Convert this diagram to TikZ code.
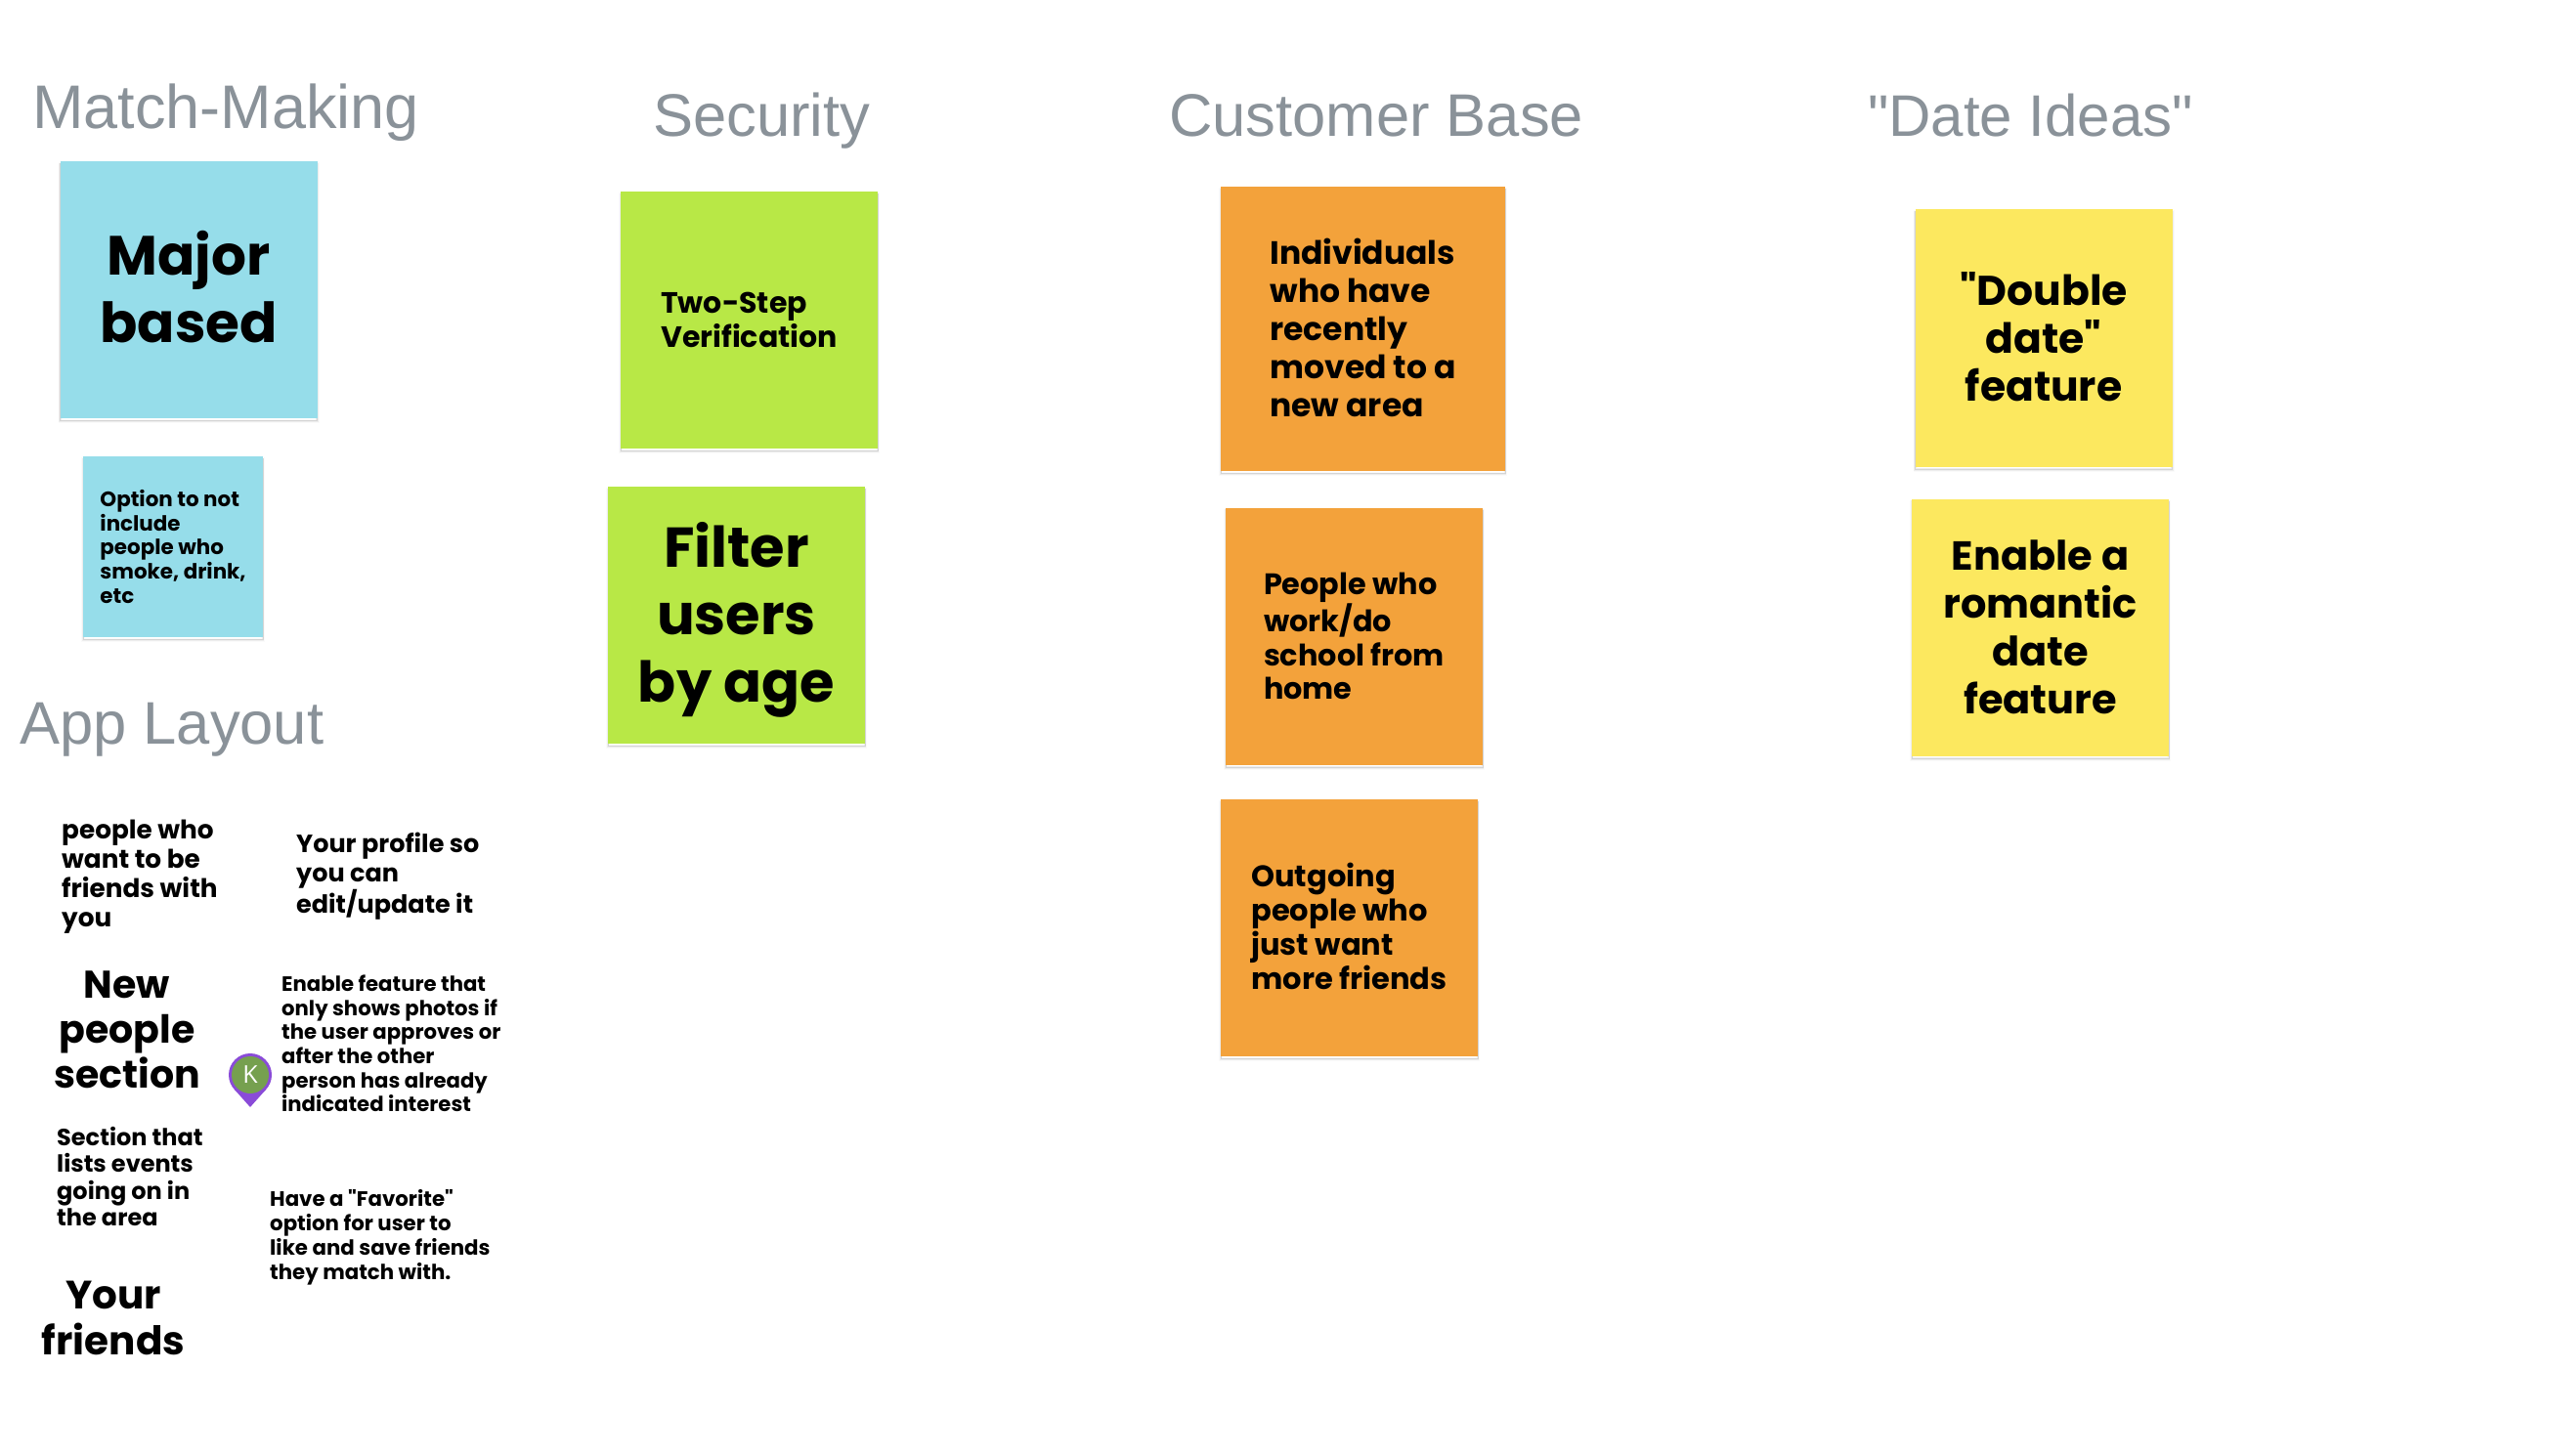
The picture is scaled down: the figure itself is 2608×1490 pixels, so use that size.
\documentclass[tikz,border=0pt]{standalone}
\usepackage{fontspec}
\setmainfont{Poppins}[Ligatures=TeXOff]
\newfontfamily\titlefont{Liberation Sans}
\newfontfamily\pinfont{Open Sans}
\newcommand\fz[2]{\fontsize{#1}{#2}\selectfont}
\definecolor{skyNote}{HTML}{96DDEA}
\definecolor{limeNote}{HTML}{B8E846}
\definecolor{orangeNote}{HTML}{F3A23B}
\definecolor{yellowNote}{HTML}{FCE85F}
\definecolor{headGray}{HTML}{8A9299}
\definecolor{pinPurple}{HTML}{8A4BD8}
\definecolor{pinGreen}{HTML}{76A04F}
\tikzset{
  note/.style={inner sep=0pt,align=#1,text=black},
  note/.default=left,
  fs/.style 2 args={font=\bfseries\fz{#1}{#2}},
  sticky/.style={fill=#1,inner sep=0pt,minimum width=263pt,minimum height=263pt,
    preaction={draw=black,line width=4pt,draw opacity=.02,transform canvas={yshift=-3pt}},
    preaction={draw=black,line width=2.5pt,draw opacity=.05,transform canvas={yshift=-3pt}},
    preaction={draw=black,line width=1pt,draw opacity=.1,transform canvas={yshift=-2.5pt}}},
  head/.style={inner sep=0pt,anchor=base west,text=headGray,font=\titlefont\fz{61.5}{70}},
}
\begin{document}
\begin{tikzpicture}[x=1pt,y=-1pt]
\useasboundingbox[fill=white] (0,0) rectangle (2608,1490);
% headings
\node[head,font=\titlefont\fz{63}{70}] (h1) at (33,131.5) {Match-Making};
\node[head] (h2) at (668,139.5) {Security};
\node[head] (h3) at (1196,140) {Customer Base};
\node[head,font=\titlefont\fz{60}{70}] (h4) at (1911,140) {"Date Ideas"};
\node[head] (h5) at (20,761.5) {App Layout};
% stickies
\node[sticky=skyNote] (major) at (193,296.5) {};
\node[note=center,fs={56.5}{69},yshift=3.3pt] (majorT) at (major) {Major\\based};
\node[sticky=skyNote,minimum width=184pt,minimum height=185pt] (option) at (177,559.5) {};
\node[note,fs={21.4}{24.6}] (optionT) at (option) {Option to not\\include\\people who\\smoke, drink,\\etc};
\node[sticky=limeNote] (two) at (766.5,327.5) {};
\node[note,fs={30}{35}] (twoT) at (two) {Two-Step\\Verification};
\node[sticky=limeNote] (filter) at (753.5,629.5) {};
\node[note=center,fs={57.5}{69},yshift=-4.5pt] (filterT) at (filter) {Filter\\users\\by age};
\node[sticky=orangeNote,minimum width=291pt,minimum height=291pt] (indiv) at (1394.5,336.5) {};
\node[note,fs={33}{39},yshift=1pt] (indivT) at (indiv) {Individuals\\who have\\recently\\moved to a\\new area};
\node[sticky=orangeNote] (home) at (1385.5,651) {};
\node[note,fs={30.3}{34.8}] (homeT) at (home) {People who\\work/do\\school from\\home};
\node[sticky=orangeNote] (out) at (1380.5,949.5) {};
\node[note,fs={30.5}{35},yshift=1.5pt] (outT) at (out) {Outgoing\\people who\\just want\\more friends};
\node[sticky=yellowNote] (double) at (2091,346) {};
\node[note=center,fs={42.5}{49},yshift=1.5pt] (doubleT) at (double) {"Double\\date"\\feature};
\node[sticky=yellowNote] (romantic) at (2087.5,642) {};
\node[note=center,fs={41.5}{49}] (romanticT) at (romantic) {Enable a\\romantic\\date\\feature};
% app layout text
\node[note,fs={26.3}{30},anchor=west] (t1) at (63,897.5) {people who\\want to be\\friends with\\you};
\node[note,fs={25.5}{30},anchor=west] (t2) at (303,897) {Your profile so\\you can\\edit/update it};
\node[note=center,fs={39.5}{46}] (t3) at (130,1054) {New\\people\\section};
\node[note,fs={21.2}{24.6},anchor=west] (t4) at (288,1068) {Enable feature that\\only shows photos if\\the user approves or\\after the other\\person has already\\indicated interest};
\node[note,fs={24}{27.6},anchor=west] (t5) at (58,1204) {Section that\\lists events\\going on in\\the area};
\node[note,fs={21.3}{24.9},anchor=west] (t6) at (276,1266.5) {Have a "Favorite"\\option for user to\\like and save friends\\they match with.};
\node[note=center,fs={40.5}{47}] (t7) at (116,1349) {Your\\friends};
% avatar pin
\fill[pinPurple] (256,1100) circle[radius=22pt];
\fill[pinPurple] (256,1133) -- (239.5,1114.5) -- (272.5,1114.5) -- cycle;
\node[circle,fill=pinGreen,minimum size=38pt,inner sep=0pt,text=white,font=\pinfont\fz{25}{27}] (pin) at (256,1100) {K};
\end{tikzpicture}
\end{document}
